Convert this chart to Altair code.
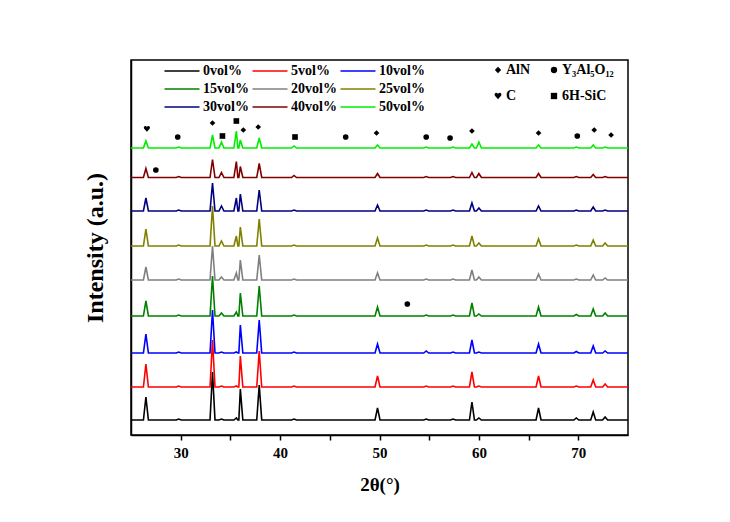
import altair as alt
import pandas as pd

# ---- data ----
series = ["0vol%", "5vol%", "10vol%", "15vol%", "20vol%", "25vol%", "30vol%", "40vol%", "50vol%"]
colors = ["#000000", "#ff0000", "#0000ff", "#008000", "#808080", "#808000", "#000080", "#800000", "#00ee00"]
baselines = [15, 48, 82, 119, 155, 189, 224, 257.5, 287]

peak_pos = [26.5, 29.8, 33.2, 34.1, 35.6, 36.0, 37.9, 41.4, 49.8, 54.7, 57.4, 59.3, 60.0, 66.0, 69.8, 71.5, 72.7]
h_0 = [23, 1, 48, 1, 2, 31, 35, 1, 12, 1, 1, 18, 2, 12, 2, 8, 3]
h_5 = [23, 1, 47, 1, 1, 31, 36, 1, 11, 1, 1, 15, 1, 11, 1, 7, 3]
h_10 = [19, 1, 43, 1, 1, 28, 33, 1, 9, 2, 1, 13, 1, 9, 1.5, 7, 2]
h_15 = [15, 1, 40, 3, 4, 23, 30, 1, 9, 1, 1, 13, 2, 9, 1.5, 7, 3]
h_20 = [13, 1, 34, 3, 7, 20, 25, 1, 7, 1, 1, 10, 3, 6, 1, 5, 2]
h_25 = [17, 1, 40, 5, 10, 19, 27, 1, 8, 1, 1, 10, 3, 7, 1, 6, 3]
h_30 = [13, 1, 28, 5, 13, 17, 21, 1, 6, 1, 1, 8, 3, 5, 1, 4, 1]
h_40 = [9, 1, 18, 5, 16, 11, 14, 2, 4, 1, 1, 5, 4, 4, 1, 3, 1]
h_50 = [7, 1, 13, 6, 17, 8, 10, 2, 3, 1, 1, 4, 6, 3, 1, 3, 1]
heights = [h_0, h_5, h_10, h_15, h_20, h_25, h_30, h_40, h_50]

phases = ["AlN", "Y\u2083Al\u2085O\u2081\u2082", "C", "6H-SiC"]
marker_phase = ["C", phases[1], "AlN", "6H-SiC", "6H-SiC", "AlN", "AlN", "6H-SiC", phases[1],
                "AlN", phases[1], phases[1], "AlN", "AlN", phases[1], "AlN", "AlN", phases[1], phases[1]]
marker_x = [26.6, 29.7, 33.2, 34.2, 35.6, 36.3, 37.8, 41.5, 46.6,
            49.7, 54.7, 57.1, 59.3, 66.0, 69.9, 71.6, 73.3, 27.5, 52.8]
marker_y = [306, 298, 312, 299, 314, 305, 308, 298, 298,
            302, 298, 297, 304, 302, 299, 305, 300, 265, 131]

# ---- build tables ----
HALF = 0.25
rows = []
for s, base, hs in zip(series, baselines, heights):
    rows.append({"series": s, "theta": 25.0, "intensity": base})
    for p, h in zip(peak_pos, hs):
        rows.append({"series": s, "theta": p - HALF, "intensity": base})
        rows.append({"series": s, "theta": p, "intensity": base + h})
        rows.append({"series": s, "theta": p + HALF, "intensity": base})
    rows.append({"series": s, "theta": 75.0, "intensity": base})
df = pd.DataFrame(rows)

mk = pd.DataFrame({"phase": marker_phase, "theta": marker_x, "intensity": marker_y})

FONT = "Liberation Serif"
heart = ("M0,1 L-0.9,0 C-1.3,-0.45 -1.05,-1.05 -0.5,-1.05 C-0.2,-1.05 0,-0.8 0,-0.55 "
         "C0,-0.8 0.2,-1.05 0.5,-1.05 C1.05,-1.05 1.3,-0.45 0.9,0 Z")

xscale = alt.Scale(domain=[25, 75], nice=False, zero=False)
yscale = alt.Scale(domain=[0, 375], nice=False, zero=False)

lines = alt.Chart(df).mark_line(strokeWidth=1.6).encode(
    x=alt.X("theta:Q", scale=xscale,
            axis=alt.Axis(values=[30, 35, 40, 45, 50, 55, 60, 65, 70],
                          labelExpr="datum.value % 10 == 0 ? datum.label : ''",
                          title="2\u03b8(\u00b0)", grid=False, tickSize=5,
                          labelPadding=5, titlePadding=15, titleFontSize=19)),
    y=alt.Y("intensity:Q", scale=yscale,
            axis=alt.Axis(labels=False, ticks=False, grid=False,
                          title="Intensity (a.u.)", titlePadding=24, titleFontSize=24)),
    color=alt.Color("series:N", sort=series,
                    scale=alt.Scale(domain=series, range=colors),
                    legend=alt.Legend(title=None, orient="none", legendX=41, legendY=1,
                                      columns=3, direction="horizontal",
                                      symbolType="M-2,0L2,0", symbolSize=306,
                                      symbolStrokeWidth=1.6, columnPadding=0,
                                      rowPadding=1, labelOffset=11)),
)

points = alt.Chart(mk).mark_point(filled=True, color="black", opacity=1, size=32).encode(
    x=alt.X("theta:Q", scale=xscale),
    y=alt.Y("intensity:Q", scale=yscale),
    shape=alt.Shape("phase:N", sort=phases,
                    scale=alt.Scale(domain=phases, range=["diamond", "circle", heart, "square"]),
                    legend=alt.Legend(title=None, orient="none", legendX=360, legendY=3,
                                      columns=2, direction="horizontal",
                                      symbolSize=40, symbolFillColor="black",
                                      symbolStrokeColor="black", columnPadding=16,
                                      rowPadding=12, labelOffset=1)),
)

chart = alt.layer(lines, points).properties(
    width=497, height=375,
    autosize=alt.AutoSizeParams(type="none"),
    padding={"left": 123, "top": 52, "right": 90, "bottom": 75},
).configure_view(
    stroke="black", strokeWidth=1.5
).configure_axis(
    domainColor="black", domainWidth=1.5, tickColor="black", tickWidth=1.5,
    labelFont=FONT, labelFontWeight="bold", labelFontSize=15, labelColor="black",
    titleFont=FONT, titleFontWeight="bold", titleColor="black",
).configure_legend(
    labelFont=FONT, labelFontWeight="bold", labelFontSize=14, labelColor="black",
    padding=0,
)

chart.save("out.html", embed_options={"renderer": "svg", "actions": False})
